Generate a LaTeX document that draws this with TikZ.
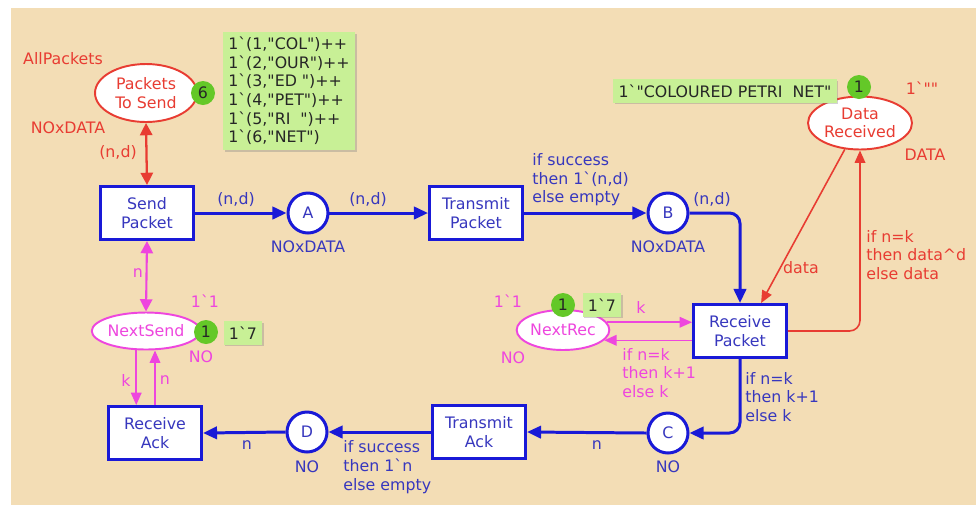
\documentclass[tikz,border=0pt]{standalone}
\usepackage{fontspec}
\setmainfont{DejaVu Sans}[Ligatures=TeXOff]
\usetikzlibrary{shapes.geometric,arrows.meta,shadows}
\definecolor{cpnbg}{RGB}{243,221,181}
\definecolor{cpnblue}{RGB}{25,25,215}
\definecolor{cpntext}{RGB}{55,55,190}
\definecolor{cpnred}{RGB}{232,60,50}
\definecolor{cpnmag}{RGB}{238,70,222}
\definecolor{tokgreen}{RGB}{100,200,40}
\definecolor{markgreen}{RGB}{200,240,150}
\begin{document}
\begin{tikzpicture}[x=0.02cm, y=-0.02cm,
    font=\fontsize{9}{10.6}\selectfont,
    trans/.style={rectangle, draw=cpnblue, line width=1.7pt, fill=white,
      text=cpntext, align=center, inner sep=0pt,
      minimum width=1.86cm, minimum height=1.06cm},
    bplace/.style={circle, draw=cpnblue, line width=1.7pt, fill=white,
      text=cpntext, minimum size=0.8cm, inner sep=0pt},
    rplace/.style={ellipse, draw=cpnred, line width=1.1pt, fill=white,
      text=cpnred, align=center, inner sep=0pt},
    mplace/.style={ellipse, draw=cpnmag, line width=1.1pt, fill=white,
      text=cpnmag, inner sep=0pt},
    token/.style={circle, fill=tokgreen, text=black!85,
      minimum size=0.48cm, inner sep=0pt},
    marking/.style={rectangle, fill=markgreen, text=black!85, align=left,
      inner sep=3pt,
      drop shadow={shadow xshift=1pt, shadow yshift=-1pt, opacity=0.35}},
    bluearc/.style={draw=cpnblue, line width=1.7pt,
      -{Triangle[length=8pt, width=7pt]}},
    redarc/.style={draw=cpnred, line width=0.9pt,
      -{Triangle[length=7pt, width=6pt]}},
    magarc/.style={draw=cpnmag, line width=0.9pt,
      -{Triangle[length=7pt, width=6pt]}},
    btext/.style={text=cpntext, inner sep=0pt},
    rtext/.style={text=cpnred, inner sep=0pt},
    mtext/.style={text=cpnmag, inner sep=0pt}]
  % Canvas
  \useasboundingbox (0,0) rectangle (976,505);
  \fill[white] (0,0) rectangle (976,505);
  \fill[cpnbg] (11,8) rectangle (976,505);
  % Places
  \node[rplace, minimum width=2.04cm, minimum height=1.16cm] (pts) at (146,93) {Packets\\To Send};
  \node[rplace, minimum width=2.08cm, minimum height=1.06cm] (dataR) at (860,123) {Data\\Received};
  \node[mplace, minimum width=2.12cm, minimum height=0.74cm] (nextS) at (146,331) {NextSend};
  \node[mplace, minimum width=1.84cm, minimum height=0.8cm] (nextR) at (563,330) {NextRec};
  \node[bplace] (A) at (308,213) {A};
  \node[bplace] (B) at (668,213) {B};
  \node[bplace] (C) at (668,433) {C};
  \node[bplace] (D) at (307,432) {D};
  % Transitions
  \node[trans] (send) at (147,213) {Send\\Packet};
  \node[trans] (transP) at (476,213) {Transmit\\Packet};
  \node[trans] (recvP) at (740,331) {Receive\\Packet};
  \node[trans] (transA) at (479,432) {Transmit\\Ack};
  \node[trans] (recvA) at (155,433) {Receive\\Ack};
  % Blue arcs
  \draw[bluearc] (send.east) -- (A.west);
  \draw[bluearc] (A.east) -- (transP.west);
  \draw[bluearc] (transP.east) -- (B.west);
  \draw[bluearc, rounded corners=6pt] (B.east) -| (recvP.north);
  \draw[bluearc, rounded corners=6pt] (recvP.south) |- (C.east);
  \draw[bluearc] (C.west) -- (transA.east);
  \draw[bluearc] (transA.west) -- (D.east);
  \draw[bluearc] (D.west) -- (recvA.east);
  % Red arcs
  \draw[redarc, line width=1.3pt, {Triangle[length=7pt, width=7pt]}-{Triangle[length=7pt, width=7pt]}] (pts.south) -- (send.north);
  \draw[redarc] (dataR.240) -- (recvP.53);
  \draw[redarc, rounded corners=6pt] (recvP.east) -| (dataR.south);
  % Magenta arcs
  \draw[magarc, line width=1.2pt, {Triangle[length=7pt, width=7pt]}-{Triangle[length=7pt, width=7pt]}] (send.south) -- (nextS.north);
  \draw[magarc] (nextS.243) -- (nextS.243 |- recvA.north);
  \draw[magarc] (recvA.north) -- (recvA.north |- nextS.south);
  \draw[magarc] (nextR.10) -- (nextR.10 -| recvP.west);
  \draw[magarc] (nextR.-14 -| recvP.west) -- (nextR.-14);
  % Tokens and markings
  \node[token] (tokP) at (203,93) {6};
  \node[marking] (markP) at (289,91) {1`(1,"COL")++\\1`(2,"OUR")++\\1`(3,"ED ")++\\1`(4,"PET")++\\1`(5,"RI\ \ ")++\\1`(6,"NET")};
  \node[marking] (markD) at (725,91) {1`"COLOURED PETRI\ \ NET"};
  \node[token] (tokD) at (859,87) {1};
  \node[token] (tokS) at (206,332) {1};
  \node[marking] (markS) at (243,333) {1`7};
  \node[token] (tokR) at (563,305) {1};
  \node[marking] (markR) at (602,305) {1`7};
  % Place labels
  \node[rtext] (lAll) at (63,59) {AllPackets};
  \node[rtext] (lPtsT) at (68,128) {NOxDATA};
  \node[rtext] (lDInit) at (922,88) {1`""};
  \node[rtext] (lDT) at (925,155) {DATA};
  \node[btext] (lAT) at (308,247) {NOxDATA};
  \node[btext] (lBT) at (668,247) {NOxDATA};
  \node[btext] (lCT) at (668,467) {NO};
  \node[btext] (lDT2) at (307,467) {NO};
  \node[mtext] (lSInit) at (205,301) {1`1};
  \node[mtext] (lST) at (201,357) {NO};
  \node[mtext] (lRInit) at (508,301) {1`1};
  \node[mtext] (lRT) at (513,358) {NO};
  % Arc labels
  \node[rtext] (aPts) at (118,153) {(n,d)};
  \node[btext] (aSA) at (236,200) {(n,d)};
  \node[btext] (aAT) at (368,200) {(n,d)};
  \node[btext, anchor=west, align=left] (aTB) at (532,180) {if success\\then 1`(n,d)\\else empty};
  \node[btext] (aBR) at (712,200) {(n,d)};
  \node[rtext] (aData) at (801,268) {data};
  \node[rtext, anchor=west, align=left] (aRD) at (866,255) {if n=k\\then data\textasciicircum d\\else data};
  \node[mtext] (aSN) at (138,273) {n};
  \node[mtext] (aK1) at (126,380) {k};
  \node[mtext] (aN1) at (165,380) {n};
  \node[mtext] (aK2) at (641,307) {k};
  \node[mtext, anchor=west, align=left] (aRN) at (622,373) {if n=k\\then k+1\\else k};
  \node[btext, anchor=west, align=left] (aRC) at (745,397) {if n=k\\then k+1\\else k};
  \node[btext] (aCT) at (597,445) {n};
  \node[btext, anchor=west, align=left] (aTD) at (343,467) {if success\\then 1`n\\else empty};
  \node[btext] (aDR) at (247,445) {n};
\end{tikzpicture}
\end{document}
